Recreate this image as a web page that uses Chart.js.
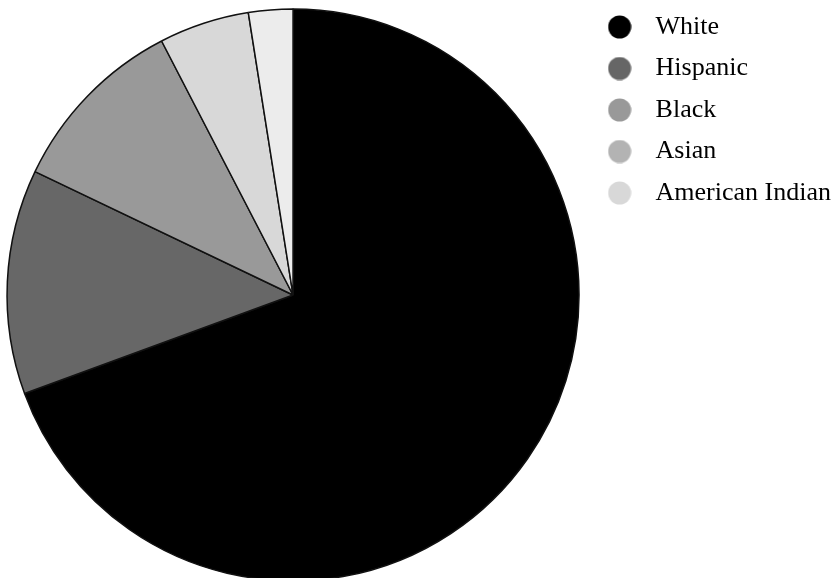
<!DOCTYPE html>
<html>
<head>
<meta charset="utf-8">
<script src="https://cdn.jsdelivr.net/npm/chart.js@4/dist/chart.umd.min.js"></script>
<style>
    html, body { margin: 0; padding: 0; overflow: hidden; background: #fff; }
    /* the pie runs a little past the bottom edge, so draw on a slightly bigger canvas and clip */
    #clip { position: relative; width: 839px; height: 578px; overflow: hidden; }
    #wrap { position: relative; width: 841px; height: 590px; }
</style>
</head>
<body>
<div id="clip"><div id="wrap"><canvas id="pie"></canvas></div></div>
<script>
const categories = ["White", "Hispanic", "Black", "Asian", "American Indian"];
const shares = [69.4, 12.7, 10.3, 5.1, 2.5];
const sliceColors = ["#000000", "#676767", "#999999", "#d8d8d8", "#ececec"];
const legendColors = ["#000000", "#666666", "#999999", "#b3b3b3", "#d8d8d8"];

// legend dot as a small canvas so the gap to the text can be set freely
function dot(color, size = 24) {
    const c = document.createElement("canvas");
    c.width = size;
    c.height = size;
    const g = c.getContext("2d");
    g.fillStyle = color;
    g.beginPath();
    g.arc(size / 2, size / 2, size / 2 - 0.5, 0, Math.PI * 2);
    g.fill();
    return c;
}

new Chart(document.getElementById("pie"), {
    type: "pie",
    data: {
        labels: categories,
        datasets: [{
            data: shares,
            backgroundColor: sliceColors,
            borderColor: "#111",
            borderWidth: 1.5,
        }],
    },
    options: {
        responsive: true,
        maintainAspectRatio: false,
        animation: false,
        radius: 286,
        layout: {
            padding: { top: -1.5, left: 5, right: 0, bottom: 0 },
        },
        plugins: {
            tooltip: { enabled: false },
            legend: {
                position: "right",
                align: "start",
                labels: {
                    font: { family: "'Liberation Serif', 'Times New Roman', serif", size: 26 },
                    color: "#111",
                    usePointStyle: true,
                    pointStyleWidth: 46,
                    boxHeight: 17,
                    padding: 15.5,
                    generateLabels: () => categories.map((name, i) => ({
                        text: name,
                        fillStyle: legendColors[i],
                        strokeStyle: legendColors[i],
                        lineWidth: 0,
                        pointStyle: dot(legendColors[i]),
                        hidden: false,
                        index: i,
                    })),
                },
            },
        },
    },
});
</script>
</body>
</html>
